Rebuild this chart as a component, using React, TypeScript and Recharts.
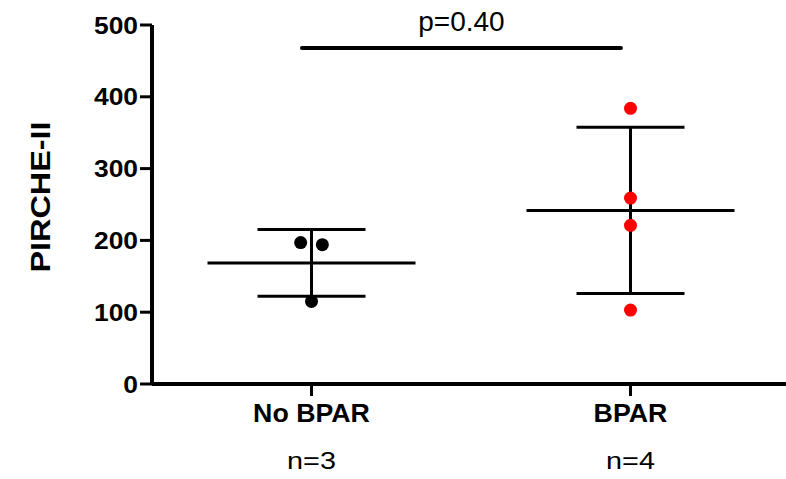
import { ComposedChart, ErrorBar, ReferenceLine, Scatter, XAxis, YAxis } from "recharts";

const groups = ["No BPAR", "BPAR"];
const groupN = ["n=3", "n=4"];
const groupColors = ["#000000", "#ff0000"];
const noBparValues = [197, 194, 115];
const bparValues = [384, 259, 221, 103];
const yTicks = [0, 100, 200, 300, 400, 500];
const pLabel = "p=0.40";
const pBarValue = 468;

const FONT = "'Liberation Sans', Arial, sans-serif";
const groupValues = [noBparValues, bparValues];

// spread points that would overlap (simple jitter by neighbour rule)
function spread(values: number[]) {
  return values.map((v, j) => {
    const k = values.findIndex((w, i) => i !== j && Math.abs(w - v) < 12);
    if (k < 0) return 0;
    return j < k ? -0.034 : 0.034;
  });
}

function meanSd(values: number[]) {
  const m = values.reduce((a, b) => a + b, 0) / values.length;
  const v = values.reduce((a, b) => a + (b - m) ** 2, 0) / (values.length - 1);
  return { mean: m, sd: Math.sqrt(v) };
}

const pointSets = groupValues.map((vals, i) => {
  const jit = spread(vals);
  return vals.map((v, j) => ({ x: i + 0.5 + jit[j], y: v }));
});

const summary = groupValues.map((vals, i) => {
  const { mean, sd } = meanSd(vals);
  return { x: i + 0.5, y: mean, sd };
});

function YTick(props: any) {
  const { x, y, payload } = props;
  return (
    <text
      transform={`translate(${x},${y}) scale(1.1,1)`}
      textAnchor="end"
      dy="0.36em"
      fontFamily={FONT}
      fontWeight="bold"
      fontSize={24}
      fill="#000"
    >
      {payload.value}
    </text>
  );
}

function XTick(props: any) {
  const { x, y, payload } = props;
  const i = Math.round(payload.value - 0.5);
  return (
    <g>
      <text
        transform={`translate(${x},${y + 26}) scale(1.07,1)`}
        textAnchor="middle"
        fontFamily={FONT}
        fontWeight="bold"
        fontSize={25}
        fill="#000"
      >
        {groups[i]}
      </text>
      <text
        transform={`translate(${x},${y + 73}) scale(1.2,1)`}
        textAnchor="middle"
        fontFamily={FONT}
        fontSize={24}
        fill="#000"
      >
        {groupN[i]}
      </text>
    </g>
  );
}

function YLabel() {
  return (
    <text
      transform="translate(40,197) rotate(-90) scale(1.2,1)"
      textAnchor="middle"
      dy="0.36em"
      fontFamily={FONT}
      fontWeight="bold"
      fontSize={27}
      fill="#000"
    >
      PIRCHE-II
    </text>
  );
}

const MeanLine = (props: any) => (
  <line
    x1={props.cx - 104}
    x2={props.cx + 104}
    y1={props.cy}
    y2={props.cy}
    stroke="#000"
    strokeWidth={3}
  />
);

export default function App() {
  return (
    <div style={{ position: "absolute", left: 0, top: 0, width: 786, height: 479, overflow: "hidden", background: "#fff" }}>
      <ComposedChart width={790} height={479} margin={{ top: 25, right: 0, bottom: 0, left: 0 }}>
        <XAxis
          type="number"
          dataKey="x"
          domain={[0, 2]}
          ticks={[0.5, 1.5]}
          height={95}
          tickSize={12}
          tickMargin={0}
          tick={<XTick />}
          axisLine={{ stroke: "#000", strokeWidth: 4 }}
          tickLine={{ stroke: "#000", strokeWidth: 3 }}
          allowDataOverflow
        />
        <YAxis
          type="number"
          dataKey="y"
          domain={[0, 500]}
          ticks={yTicks}
          width={152}
          tickSize={12}
          tickMargin={2}
          tick={<YTick />}
          axisLine={{ stroke: "#000", strokeWidth: 4 }}
          tickLine={{ stroke: "#000", strokeWidth: 3 }}
          label={<YLabel />}
          allowDataOverflow
        />
        <ReferenceLine
          segment={[
            { x: summary[0].x - 0.03, y: pBarValue },
            { x: summary[1].x - 0.03, y: pBarValue },
          ]}
          stroke="#000"
          strokeWidth={4}
          strokeLinecap="round"
          label={{ value: pLabel, position: "top", offset: 17, fontSize: 28, fontFamily: FONT, fill: "#000" }}
        />
        <Scatter data={summary} dataKey="y" shape={<MeanLine />} isAnimationActive={false}>
          <ErrorBar dataKey="sd" direction="y" width={54} stroke="#000" strokeWidth={3} isAnimationActive={false} />
        </Scatter>
        {pointSets.map((pts, i) => (
          <Scatter
            key={groups[i]}
            data={pts}
            dataKey="y"
            isAnimationActive={false}
            shape={(p: any) => <circle cx={p.cx} cy={p.cy} r={6.5} fill={groupColors[i]} />}
          />
        ))}
      </ComposedChart>
    </div>
  );
}
